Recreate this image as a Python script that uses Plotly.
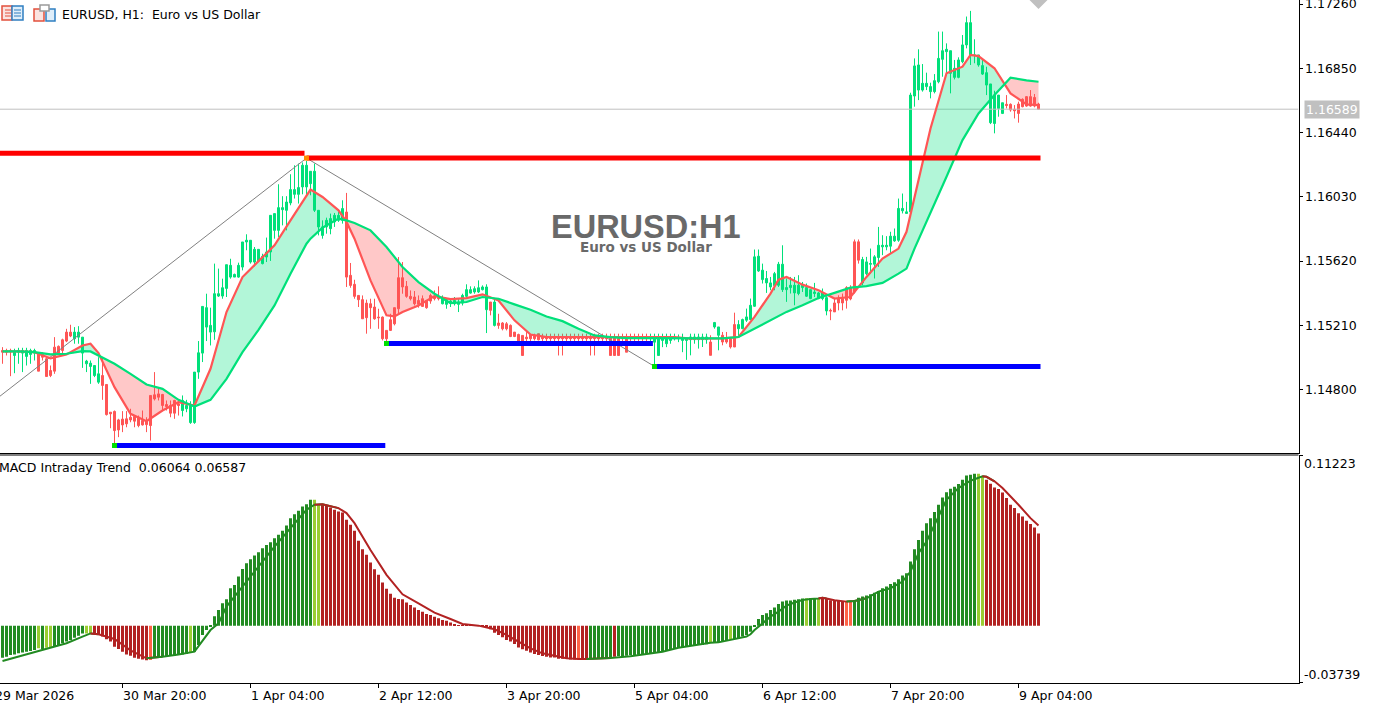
import plotly.graph_objs as go

# hourly candles, one value per bar
highs = [
    1.15071,1.15061,1.15061,1.15061,1.15067,1.15067,1.15067,1.15061,1.15061,1.15039,
    1.15039,1.15007,1.14954,1.15135,1.15082,1.15125,1.15188,1.15214,1.15199,1.15205,
    1.15135,1.14990,1.14986,1.14954,1.15007,1.15007,1.14833,1.14656,1.14667,1.14614,
    1.14663,1.14663,1.14678,1.14635,1.14635,1.14667,1.14624,1.14763,1.14912,1.14816,
    1.14773,1.14731,1.14731,1.14735,1.14731,1.14763,1.14735,1.14726,1.14912,1.15110,
    1.15331,1.15412,1.15323,1.15604,1.15572,1.15508,1.15597,1.15635,1.15540,1.15610,
    1.15742,1.15791,1.15753,1.15710,1.15695,1.15667,1.15770,1.15912,1.15923,1.16110,
    1.16034,1.16034,1.16174,1.16231,1.16242,1.16249,1.16259,1.16193,1.16242,1.15944,
    1.15880,1.15897,1.15923,1.15927,1.15933,1.16008,1.16055,1.15608,1.15501,1.15401,
    1.15401,1.15374,1.15380,1.15380,1.15316,1.15267,1.15178,1.15284,1.15323,1.15646,
    1.15614,1.15493,1.15433,1.15429,1.15401,1.15401,1.15369,1.15412,1.15433,1.15459,
    1.15401,1.15380,1.15380,1.15391,1.15380,1.15412,1.15472,1.15459,1.15459,1.15497,
    1.15465,1.15472,1.15359,1.15374,1.15284,1.15231,1.15231,1.15216,1.15167,1.15157,
    1.15146,1.15167,1.15152,1.15157,1.15157,1.15157,1.15157,1.15157,1.15157,1.15157,
    1.15157,1.15157,1.15157,1.15157,1.15157,1.15157,1.15157,1.15157,1.15157,1.15157,
    1.15157,1.15157,1.15157,1.15157,1.15157,1.15157,1.15157,1.15157,1.15157,1.15157,
    1.15157,1.15157,1.15157,1.15157,1.15157,1.15157,1.15157,1.15157,1.15157,1.15152,
    1.15157,1.15125,1.15157,1.15157,1.15157,1.15157,1.15157,1.15147,1.15232,1.15200,
    1.15168,1.15168,1.15136,1.15291,1.15243,1.15253,1.15317,1.15381,1.15694,1.15694,
    1.15604,1.15557,1.15519,1.15551,1.15615,1.15721,1.15509,1.15519,1.15519,1.15530,
    1.15487,1.15477,1.15438,1.15481,1.15423,1.15445,1.15396,1.15317,1.15381,1.15402,
    1.15413,1.15460,1.15466,1.15758,1.15758,1.15647,1.15647,1.15700,1.15658,1.15838,
    1.15785,1.15779,1.15807,1.15828,1.16019,1.16051,1.15998,1.16694,1.16913,1.16971,
    1.16877,1.16822,1.16758,1.16813,1.17084,1.17084,1.17009,1.16962,1.16903,1.16920,
    1.17062,1.17180,1.17216,1.17035,1.16935,1.16913,1.16860,1.16750,1.16707,1.16679,
    1.16630,1.16679,1.16626,1.16615,1.16637,1.16658,1.16673,1.16711,1.16686,1.16630,
]
lows = [
    1.14965,1.15018,1.14886,1.14905,1.14965,1.14912,1.14954,1.14965,1.14986,1.14918,
    1.14986,1.14884,1.14880,1.14901,1.15029,1.15018,1.15103,1.15135,1.15093,1.15093,
    1.14939,1.14912,1.14837,1.14880,1.14837,1.14735,1.14635,1.14554,1.14454,1.14497,
    1.14529,1.14560,1.14592,1.14560,1.14560,1.14571,1.14529,1.14475,1.14731,1.14731,
    1.14667,1.14667,1.14624,1.14614,1.14635,1.14629,1.14656,1.14582,1.14582,1.14869,
    1.14976,1.15110,1.15082,1.15118,1.15391,1.15380,1.15391,1.15508,1.15518,1.15514,
    1.15561,1.15689,1.15604,1.15586,1.15614,1.15599,1.15614,1.15621,1.15763,1.15774,
    1.15848,1.15816,1.15976,1.16019,1.15987,1.16046,1.16040,1.16040,1.15933,1.15784,
    1.15763,1.15795,1.15791,1.15838,1.15870,1.15859,1.15455,1.15450,1.15380,1.15327,
    1.15252,1.15157,1.15188,1.15246,1.15188,1.15114,1.15103,1.15174,1.15210,1.15284,
    1.15412,1.15386,1.15369,1.15337,1.15323,1.15327,1.15316,1.15348,1.15369,1.15369,
    1.15344,1.15316,1.15327,1.15337,1.15295,1.15337,1.15386,1.15412,1.15412,1.15416,
    1.15433,1.15161,1.15274,1.15203,1.15188,1.15178,1.15178,1.15135,1.15135,1.15097,
    1.15018,1.15103,1.15093,1.15114,1.15114,1.15103,1.15103,1.15103,1.15103,1.15018,
    1.15018,1.15103,1.15103,1.15103,1.15103,1.15103,1.15103,1.15018,1.15018,1.15103,
    1.15103,1.15103,1.15018,1.15018,1.15018,1.15103,1.15039,1.15103,1.15103,1.15103,
    1.15103,1.15103,1.15103,1.14944,1.15018,1.15071,1.15071,1.15093,1.15114,1.15103,
    1.15039,1.14990,1.15019,1.15093,1.15062,1.15072,1.15093,1.15019,1.15189,1.15051,
    1.15083,1.15093,1.15062,1.15072,1.15136,1.15185,1.15232,1.15243,1.15328,1.15551,
    1.15477,1.15417,1.15434,1.15434,1.15455,1.15423,1.15360,1.15413,1.15338,1.15402,
    1.15423,1.15391,1.15377,1.15391,1.15377,1.15370,1.15274,1.15243,1.15296,1.15306,
    1.15306,1.15317,1.15370,1.15413,1.15604,1.15466,1.15530,1.15540,1.15509,1.15583,
    1.15658,1.15689,1.15668,1.15743,1.15743,1.15924,1.15924,1.15924,1.16605,1.16647,
    1.16701,1.16711,1.16658,1.16690,1.16754,1.16796,1.16807,1.16690,1.16779,1.16786,
    1.16882,1.16977,1.16871,1.16882,1.16860,1.16807,1.16679,1.16494,1.16435,1.16541,
    1.16558,1.16594,1.16573,1.16530,1.16503,1.16601,1.16605,1.16605,1.16601,1.16589,
]
opens = [
    1.15050,1.15050,1.15050,1.15018,1.15039,1.15033,1.15012,1.15025,1.15033,1.15029,
    1.15025,1.14997,1.14922,1.15071,1.15076,1.15118,1.15167,1.15167,1.15125,1.15135,
    1.15033,1.14965,1.14948,1.14890,1.14848,1.14890,1.14833,1.14656,1.14661,1.14607,
    1.14612,1.14614,1.14624,1.14629,1.14624,1.14603,1.14603,1.14763,1.14767,1.14773,
    1.14769,1.14705,1.14699,1.14731,1.14709,1.14667,1.14678,1.14590,1.14590,1.14912,
    1.15033,1.15199,1.15167,1.15169,1.15397,1.15397,1.15446,1.15518,1.15518,1.15518,
    1.15582,1.15742,1.15614,1.15614,1.15621,1.15604,1.15646,1.15678,1.15816,1.15816,
    1.15948,1.15944,1.15991,1.16046,1.16046,1.16093,1.16093,1.16114,1.15944,1.15838,
    1.15784,1.15838,1.15827,1.15870,1.15880,1.15880,1.15933,1.15529,1.15472,1.15401,
    1.15374,1.15352,1.15348,1.15327,1.15263,1.15263,1.15178,1.15246,1.15323,1.15514,
    1.15514,1.15459,1.15395,1.15391,1.15369,1.15380,1.15369,1.15401,1.15395,1.15391,
    1.15348,1.15344,1.15352,1.15348,1.15344,1.15352,1.15395,1.15416,1.15423,1.15423,
    1.15438,1.15310,1.15359,1.15210,1.15225,1.15225,1.15220,1.15210,1.15167,1.15152,
    1.15146,1.15135,1.15150,1.15146,1.15157,1.15135,1.15135,1.15135,1.15135,1.15135,
    1.15135,1.15135,1.15135,1.15135,1.15135,1.15135,1.15135,1.15135,1.15135,1.15135,
    1.15135,1.15135,1.15135,1.15135,1.15135,1.15135,1.15135,1.15135,1.15135,1.15135,
    1.15135,1.15135,1.15125,1.15103,1.15018,1.15114,1.15093,1.15114,1.15125,1.15125,
    1.15114,1.15114,1.15119,1.15119,1.15119,1.15119,1.15119,1.15104,1.15200,1.15147,
    1.15147,1.15125,1.15125,1.15215,1.15189,1.15189,1.15243,1.15247,1.15332,1.15557,
    1.15502,1.15481,1.15455,1.15464,1.15466,1.15438,1.15438,1.15451,1.15417,1.15413,
    1.15451,1.15396,1.15381,1.15413,1.15381,1.15381,1.15302,1.15306,1.15353,1.15381,
    1.15381,1.15451,1.15451,1.15743,1.15743,1.15481,1.15540,1.15600,1.15600,1.15643,
    1.15711,1.15711,1.15715,1.15749,1.15753,1.15941,1.15924,1.15934,1.16673,1.16711,
    1.16711,1.16733,1.16701,1.16701,1.16764,1.16907,1.16956,1.16818,1.16792,1.16792,
    1.16892,1.16999,1.16935,1.16931,1.16871,1.16813,1.16743,1.16503,1.16498,1.16594,
    1.16562,1.16620,1.16620,1.16588,1.16622,1.16652,1.16669,1.16669,1.16664,1.16622,
]
closes = [
    1.15039,1.15039,1.15041,1.15039,1.15050,1.15050,1.15050,1.15050,1.15050,1.14918,
    1.15007,1.14884,1.14890,1.14918,1.15033,1.15050,1.15110,1.15142,1.15167,1.15167,
    1.15135,1.14982,1.14969,1.14954,1.14901,1.14827,1.14641,1.14646,1.14539,1.14543,
    1.14575,1.14582,1.14607,1.14599,1.14571,1.14575,1.14577,1.14571,1.14741,1.14752,
    1.14699,1.14692,1.14650,1.14650,1.14699,1.14731,1.14699,1.14699,1.14912,1.15035,
    1.15331,1.15323,1.15210,1.15412,1.15412,1.15450,1.15597,1.15593,1.15535,1.15593,
    1.15742,1.15753,1.15753,1.15695,1.15695,1.15650,1.15678,1.15912,1.15923,1.15961,
    1.15961,1.15997,1.16076,1.16076,1.16089,1.16231,1.16231,1.16193,1.16193,1.15944,
    1.15838,1.15880,1.15891,1.15912,1.15912,1.15955,1.15518,1.15465,1.15395,1.15374,
    1.15252,1.15259,1.15323,1.15252,1.15259,1.15125,1.15125,1.15178,1.15220,1.15316,
    1.15455,1.15395,1.15380,1.15348,1.15344,1.15331,1.15323,1.15365,1.15380,1.15380,
    1.15380,1.15374,1.15365,1.15369,1.15359,1.15401,1.15438,1.15438,1.15444,1.15450,
    1.15455,1.15455,1.15306,1.15359,1.15210,1.15188,1.15188,1.15139,1.15139,1.15103,
    1.15018,1.15125,1.15125,1.15125,1.15118,1.15125,1.15125,1.15125,1.15125,1.15125,
    1.15125,1.15125,1.15125,1.15125,1.15125,1.15125,1.15125,1.15125,1.15125,1.15125,
    1.15125,1.15125,1.15018,1.15018,1.15018,1.15125,1.15039,1.15125,1.15125,1.15125,
    1.15125,1.15125,1.15135,1.15125,1.15125,1.15125,1.15125,1.15125,1.15135,1.15135,
    1.15125,1.15125,1.15136,1.15136,1.15136,1.15136,1.15136,1.15019,1.15228,1.15200,
    1.15104,1.15104,1.15072,1.15072,1.15215,1.15247,1.15264,1.15338,1.15647,1.15651,
    1.15562,1.15509,1.15481,1.15540,1.15600,1.15600,1.15451,1.15466,1.15466,1.15466,
    1.15466,1.15451,1.15438,1.15423,1.15417,1.15417,1.15387,1.15302,1.15296,1.15353,
    1.15353,1.15370,1.15379,1.15423,1.15626,1.15630,1.15615,1.15604,1.15647,1.15721,
    1.15721,1.15721,1.15779,1.15779,1.15956,1.15956,1.15934,1.16679,1.16865,1.16871,
    1.16754,1.16754,1.16733,1.16771,1.16913,1.16962,1.16971,1.16962,1.16850,1.16903,
    1.16999,1.17141,1.17141,1.16935,1.16935,1.16867,1.16822,1.16750,1.16679,1.16679,
    1.16630,1.16613,1.16584,1.16579,1.16562,1.16605,1.16609,1.16609,1.16609,1.16589,
]

ma_bars = [0,4,8,12,16,20,22,24,28,32,36,40,44,48,52,56,60,64,68,72,76,77,80,84,86,88,92,96,98,
           100,104,108,112,116,120,124,128,132,136,140,144,148,152,156,160,164,168,172,176,180,
           184,188,192,194,196,200,204,208,212,216,220,224,226,228,232,236,240,242,244,248,252,256,259]
fast_ma = [1.15044,1.15044,1.15039,1.14999,1.15025,1.15082,1.15093,1.15033,1.14816,1.14646,1.14599,
           1.14667,1.14720,1.14699,1.14933,1.15295,1.15518,1.15621,1.15721,1.15880,1.16040,1.16076,
           1.16029,1.15944,1.15870,1.15763,1.15497,1.15274,1.15267,1.15295,1.15337,1.15397,1.15378,
           1.15384,1.15408,1.15369,1.15242,1.15152,1.15135,1.15135,1.15135,1.15135,1.15135,1.15135,
           1.15135,1.15135,1.15135,1.15125,1.15127,1.15127,1.15136,1.15264,1.15413,1.15502,1.15519,
           1.15470,1.15434,1.15381,1.15391,1.15519,1.15636,1.15700,1.15807,1.16030,1.16466,1.16818,
           1.16860,1.16935,1.16928,1.16850,1.16690,1.16620,1.16615]
slow_ma = [1.15044,1.15044,1.15039,1.15025,1.15029,1.15046,1.15044,1.15018,1.14965,1.14901,1.14833,
           1.14805,1.14735,1.14692,1.14735,1.14869,1.15039,1.15182,1.15337,1.15540,1.15731,1.15763,
           1.15833,1.15891,1.15880,1.15863,1.15816,1.15710,1.15646,1.15582,1.15486,1.15412,1.15352,
           1.15359,1.15391,1.15380,1.15344,1.15310,1.15267,1.15237,1.15188,1.15146,1.15135,1.15129,
           1.15129,1.15129,1.15127,1.15125,1.15127,1.15127,1.15136,1.15189,1.15238,1.15268,1.15296,
           1.15338,1.15385,1.15417,1.15451,1.15460,1.15481,1.15540,1.15572,1.15700,1.15924,1.16158,
           1.16392,1.16477,1.16562,1.16679,1.16790,1.16773,1.16764]

# support / resistance levels and the zigzag through the swing points
level_start = [-0.7, 76, 28, 96, 163]
level_end = [75.5, 259.5, 95.7, 162.6, 259.5]
level_price = [1.16308, 1.16277, 1.14444, 1.15095, 1.14948]
level_color = ["#ff0000", "#ff0000", "#0000ff", "#0000ff", "#0000ff"]
zigzag_bars = [-0.7, 76, 163]
zigzag_price = [1.14757, 1.16277, 1.14948]
swing_bars = [76, 28, 96, 163]
swing_price = [1.16277, 1.14444, 1.15095, 1.14948]
swing_color = ["#ff8c00", "#00e000", "#00e000", "#00e000"]
last_price = 1.16589

price_ticks = [1.1726, 1.1685, 1.1644, 1.1603, 1.1562, 1.1521, 1.148]
macd_ticks = [0.11223, -0.03739]
time_bars = [30, 62, 94, 126, 158, 190, 222, 254]
time_labels = ["30 Mar 20:00", "1 Apr 04:00", "2 Apr 12:00", "3 Apr 20:00",
               "5 Apr 04:00", "6 Apr 12:00", "7 Apr 20:00", "9 Apr 04:00"]

# MACD histogram
macd_hist = [
    -0.0211,-0.0204,-0.0193,-0.0189,-0.0182,-0.0176,-0.0171,-0.0167,-0.0160,-0.0149,
    -0.0154,-0.0145,-0.0145,-0.0138,-0.0127,-0.0116,-0.0105,-0.0094,-0.0079,-0.0066,
    -0.0051,-0.0051,-0.0051,-0.0057,-0.0061,-0.0072,-0.0090,-0.0105,-0.0138,-0.0154,
    -0.0171,-0.0189,-0.0198,-0.0211,-0.0217,-0.0222,-0.0228,-0.0226,-0.0211,-0.0206,
    -0.0206,-0.0204,-0.0200,-0.0198,-0.0193,-0.0189,-0.0187,-0.0178,-0.0171,-0.0127,
    -0.0061,-0.0029,-0.0007,0.0061,0.0103,0.0147,0.0173,0.0246,0.0268,0.0323,
    0.0373,0.0411,0.0437,0.0461,0.0483,0.0509,0.0531,0.0549,0.0575,0.0597,
    0.0624,0.0659,0.0707,0.0733,0.0755,0.0784,0.0799,0.0828,0.0828,0.0799,
    0.0799,0.0791,0.0777,0.0762,0.0751,0.0744,0.0696,0.0663,0.0624,0.0558,
    0.0503,0.0466,0.0415,0.0371,0.0334,0.0283,0.0242,0.0209,0.0184,0.0176,
    0.0173,0.0152,0.0136,0.0119,0.0103,0.0092,0.0077,0.0070,0.0059,0.0048,
    0.0037,0.0033,0.0020,0.0009,0.0004,0.0004,0.0004,0.0002,0.0001,0.0001,
    -0.0007,-0.0013,-0.0024,-0.0046,-0.0061,-0.0077,-0.0094,-0.0105,-0.0121,-0.0143,
    -0.0156,-0.0165,-0.0176,-0.0187,-0.0193,-0.0200,-0.0204,-0.0209,-0.0209,-0.0217,
    -0.0217,-0.0217,-0.0222,-0.0222,-0.0222,-0.0222,-0.0222,-0.0220,-0.0217,-0.0215,
    -0.0213,-0.0213,-0.0211,-0.0204,-0.0200,-0.0200,-0.0198,-0.0195,-0.0195,-0.0191,
    -0.0189,-0.0187,-0.0182,-0.0178,-0.0173,-0.0167,-0.0160,-0.0156,-0.0149,-0.0147,
    -0.0145,-0.0138,-0.0134,-0.0130,-0.0125,-0.0127,-0.0123,-0.0110,-0.0110,-0.0110,
    -0.0105,-0.0101,-0.0088,-0.0088,-0.0083,-0.0072,-0.0061,-0.0040,-0.0007,0.0044,
    0.0070,0.0081,0.0103,0.0119,0.0143,0.0158,0.0165,0.0165,0.0171,0.0173,
    0.0178,0.0180,0.0180,0.0180,0.0176,0.0184,0.0180,0.0167,0.0167,0.0167,
    0.0158,0.0158,0.0158,0.0169,0.0184,0.0191,0.0198,0.0206,0.0217,0.0228,
    0.0246,0.0257,0.0274,0.0285,0.0305,0.0329,0.0345,0.0422,0.0503,0.0564,
    0.0624,0.0674,0.0707,0.0747,0.0795,0.0843,0.0878,0.0900,0.0914,0.0931,
    0.0960,0.0988,0.0993,0.0999,0.0999,0.0982,0.0960,0.0933,0.0909,0.0898,
    0.0876,0.0839,0.0795,0.0773,0.0740,0.0718,0.0690,0.0668,0.0646,0.06064,
]
# first bar of each colour run
hist_run_start = [0,9,10,11,13,21,23,37,38,47,48,78,80,144,145,147,153,154,177,178,182,183,201,202,204,205,211,213,244,246]
hist_run_color = ["#228b22","#9acd32","#228b22","#9acd32","#228b22","#9acd32","#b22222","#ff6347","#228b22","#9acd32",
                  "#228b22","#9acd32","#b22222","#ff6347","#b22222","#228b22","#b22222","#228b22","#9acd32","#228b22",
                  "#9acd32","#228b22","#9acd32","#228b22","#9acd32","#b22222","#ff6347","#228b22","#9acd32","#b22222"]

# MACD signal line
signal_bars = [0,4,8,12,16,20,22,24,28,32,36,38,40,44,48,52,54,56,60,64,68,72,76,78,80,84,86,88,92,96,
               100,104,108,112,115,119,123,126,129,132,135,138,141,144,146,152,157,161,165,169,173,177,
               179,183,186,187,188,190,192,194,196,198,200,202,204,205,206,208,211,213,216,219,222,225,
               227,229,231,233,236,239,242,245,246,248,250,254,257,259]
signal_line = [-0.0233,-0.0204,-0.0171,-0.0145,-0.0116,-0.0072,-0.0051,-0.0057,-0.0088,-0.0162,-0.0215,-0.0211,
               -0.0204,-0.0189,-0.0171,-0.0029,0.0015,0.0125,0.0257,0.0395,0.0520,0.0641,0.0762,0.0795,0.0799,
               0.0773,0.0740,0.0674,0.0498,0.0334,0.0206,0.0147,0.0086,0.0044,0.0011,0.0,-0.0024,-0.0061,
               -0.0105,-0.0149,-0.0182,-0.0198,-0.0215,-0.0220,-0.0220,-0.0213,-0.0202,-0.0187,-0.0171,-0.0145,
               -0.0127,-0.0112,-0.0110,-0.0088,-0.0072,-0.0057,-0.0029,0.0015,0.0059,0.0092,0.0132,0.0152,
               0.0169,0.0176,0.0178,0.0184,0.0178,0.0167,0.0158,0.0162,0.0180,0.0224,0.0246,0.0290,0.0356,
               0.0477,0.0553,0.0663,0.0828,0.0905,0.0953,0.0982,0.0979,0.0949,0.0905,0.0795,0.0707,0.06587]
signal_run_start = [0, 23, 38, 80, 147, 205, 213, 246]
signal_run_color = ["#228b22", "#b22222", "#228b22", "#b22222", "#228b22", "#b22222", "#228b22", "#b22222"]

GREEN = "#00e07a"
RED = "#ff5555"
FONT = "DejaVu Sans"
W, H = 1375, 706
X_RANGE = [-0.625, 324]


def px(x):
    return x / W


def py(y):
    return 1 - y / H


def run_value(bar, starts, values):
    out = values[0]
    for s, v in zip(starts, values):
        if bar >= s:
            out = v
    return out


def cloud_traces():
    # one closed polygon per stretch where the fast line stays on the same side
    runs = []
    xs, up, low = [ma_bars[0]], [fast_ma[0]], [slow_ma[0]]
    for k in range(1, len(ma_bars)):
        d0 = fast_ma[k - 1] - slow_ma[k - 1]
        d1 = fast_ma[k] - slow_ma[k]
        if d0 * d1 < 0:
            t = d0 / (d0 - d1)
            cx = ma_bars[k - 1] + t * (ma_bars[k] - ma_bars[k - 1])
            cy = fast_ma[k - 1] + t * (fast_ma[k] - fast_ma[k - 1])
            xs.append(cx), up.append(cy), low.append(cy)
            runs.append((xs, up, low, d0 > 0))
            xs, up, low = [cx], [cy], [cy]
        xs.append(ma_bars[k]), up.append(fast_ma[k]), low.append(slow_ma[k])
    runs.append((xs, up, low, fast_ma[-1] > slow_ma[-1]))

    traces = []
    for xs, up, low, bull in runs:
        traces.append(go.Scatter(
            x=xs + xs[::-1], y=up + low[::-1], mode="lines", fill="toself", line=dict(width=0),
            fillcolor="rgba(0,225,125,0.30)" if bull else "rgba(255,85,85,0.32)",
            hoverinfo="skip", xaxis="x", yaxis="y"))
    return traces


fig = go.Figure()

fig.add_trace(go.Scatter(x=X_RANGE, y=[last_price, last_price], mode="lines",
                         line=dict(color="#c0c0c0", width=1), xaxis="x", yaxis="y"))
fig.add_trace(go.Scatter(x=zigzag_bars, y=zigzag_price, mode="lines",
                         line=dict(color="#808080", width=1), xaxis="x", yaxis="y"))

fig.add_trace(go.Candlestick(
    x=list(range(len(closes))), open=opens, high=highs, low=lows, close=closes,
    increasing=dict(line=dict(color=GREEN, width=1), fillcolor=GREEN),
    decreasing=dict(line=dict(color=RED, width=1), fillcolor=RED),
    whiskerwidth=0, xaxis="x", yaxis="y"))

for tr in cloud_traces():
    fig.add_trace(tr)
fig.add_trace(go.Scatter(x=ma_bars, y=fast_ma, mode="lines", line=dict(color=RED, width=2.2), xaxis="x", yaxis="y"))
fig.add_trace(go.Scatter(x=ma_bars, y=slow_ma, mode="lines", line=dict(color=GREEN, width=2.2), xaxis="x", yaxis="y"))

for a, b, p, c in zip(level_start, level_end, level_price, level_color):
    fig.add_trace(go.Scatter(x=[a, b], y=[p, p], mode="lines", line=dict(color=c, width=5), xaxis="x", yaxis="y"))
fig.add_trace(go.Scatter(x=swing_bars, y=swing_price, mode="markers",
                         marker=dict(symbol="square", size=5, color=swing_color), xaxis="x", yaxis="y"))
# grey shift marker cut off by the top of the chart
fig.add_trace(go.Scatter(x=[259], y=[1.17286], mode="markers",
                         marker=dict(symbol="diamond", size=14, color="#c0c0c0"), xaxis="x", yaxis="y"))

fig.add_trace(go.Bar(x=list(range(len(macd_hist))), y=macd_hist, width=0.75,
                     marker=dict(color=[run_value(i, hist_run_start, hist_run_color) for i in range(len(macd_hist))],
                                 line=dict(width=0)),
                     xaxis="x2", yaxis="y2"))

# signal line changes colour with the trend
for n, start in enumerate(signal_run_start):
    end = signal_run_start[n + 1] if n + 1 < len(signal_run_start) else 10 ** 6
    keep = [k for k, b in enumerate(signal_bars) if start <= b <= end]
    if keep[0] > 0:
        keep = [keep[0] - 1] + keep
    if n + 1 < len(signal_run_start) and keep[-1] + 1 < len(signal_bars):
        keep = keep + [keep[-1] + 1]
    fig.add_trace(go.Scatter(x=[signal_bars[k] for k in keep], y=[signal_line[k] for k in keep], mode="lines",
                             line=dict(color=signal_run_color[n], width=2), xaxis="x2", yaxis="y2"))

text_font = dict(family=FONT, size=12.5, color="#000000")
notes = [
    dict(x=px(60), y=py(15), text="EURUSD, H1:  Euro vs US Dollar", xanchor="left"),
    dict(x=px(-3), y=py(467), text="MACD Intraday Trend  0.06064 0.06587", xanchor="left"),
    # top price tick sits too close to the edge for the axis to label it
    dict(x=px(1303), y=py(4), text="1.17260", xanchor="left"),
    dict(x=px(1302), y=py(463), text="0.11223", xanchor="left"),
    dict(x=px(1302), y=py(674), text="-0.03739", xanchor="left"),
    dict(x=px(-7), y=py(695), text="29 Mar 2026", xanchor="left"),
]
annotations = [dict(n, xref="paper", yref="paper", yanchor="middle", showarrow=False, font=text_font) for n in notes]
for bar, label in zip(time_bars, time_labels):
    annotations.append(dict(x=bar, xref="x2", y=py(695), yref="paper", text=label, xanchor="left", xshift=-2,
                            yanchor="middle", showarrow=False, font=text_font))
annotations.append(dict(x=px(1331.5), y=py(109.5), xref="paper", yref="paper", text="1.16589", showarrow=False,
                        xanchor="center", yanchor="middle", bgcolor="#c0c0c0", borderpad=1,
                        font=dict(family=FONT, size=12.5, color="#ffffff")))
annotations.append(dict(x=px(646), y=py(227), xref="paper", yref="paper", text="<b>EURUSD:H1</b>", showarrow=False,
                        xanchor="center", yanchor="middle",
                        font=dict(family="Liberation Sans", size=32.5, color="#696969")))
annotations.append(dict(x=px(646), y=py(247), xref="paper", yref="paper", text="<b>Euro vs US Dollar</b>", showarrow=False,
                        xanchor="center", yanchor="middle",
                        font=dict(family=FONT, size=13.5, color="#696969")))

# the two little toolbar icons in the corner
icon_parts = [
    (2, 6, 12, 20, "#fbe3e0", "#e2503c"), (12, 6, 23, 20, "#dfeefa", "#2f7fc1"),
    (34, 9, 44, 21, "#fbe3e0", "#e2503c"), (46, 9, 55, 21, "#dfeefa", "#2f7fc1"),
    (40, 5, 49, 11, "#ffffff", "#9a9a9a"),
]
shapes = [dict(type="rect", xref="paper", yref="paper", x0=px(a), y0=py(b), x1=px(c), y1=py(d),
               fillcolor=f, line=dict(color=l, width=1.5)) for a, b, c, d, f, l in icon_parts]
for y in [10, 13, 16]:
    shapes.append(dict(type="line", xref="paper", yref="paper", x0=px(5), x1=px(11), y0=py(y), y1=py(y),
                       line=dict(color="#e2503c", width=1)))
    shapes.append(dict(type="line", xref="paper", yref="paper", x0=px(14), x1=px(21), y0=py(y), y1=py(y),
                       line=dict(color="#2f7fc1", width=1)))

axis_font = dict(family=FONT, size=12.5, color="#000000")
fig.update_layout(
    width=W, height=H, autosize=False, showlegend=False, paper_bgcolor="#ffffff", plot_bgcolor="#ffffff",
    margin=dict(l=0, r=0, t=0, b=0), hovermode=False, boxgap=0.5, boxgroupgap=0,
    annotations=annotations, shapes=shapes,
    xaxis=dict(domain=[0, 1298.5 / W], range=X_RANGE, anchor="y", showgrid=False, zeroline=False,
               showticklabels=False, ticks="", showline=True, linecolor="#000000", linewidth=1,
               rangeslider=dict(visible=False)),
    yaxis=dict(domain=[py(452.5), 1], range=[1.143991, 1.172855], side="right", anchor="x", showgrid=False,
               zeroline=False, showline=True, linecolor="#000000", linewidth=1, ticks="outside", ticklen=3,
               tickcolor="#000000", tickvals=price_ticks, tickformat=".5f", tickfont=axis_font),
    xaxis2=dict(domain=[0, 1298.5 / W], range=X_RANGE, anchor="y2", showgrid=False, zeroline=False,
                tickvals=time_bars, showticklabels=False, ticks="outside", ticklen=4, tickcolor="#000000",
                showline=True, linecolor="#000000", linewidth=1),
    yaxis2=dict(domain=[py(682.5), py(455)], range=[-0.03739, 0.11223], side="right", anchor="x2", showgrid=False,
                zeroline=False, showline=True, linecolor="#000000", linewidth=1, ticks="outside", ticklen=3,
                tickcolor="#000000", tickvals=macd_ticks, showticklabels=False),
)
# pane 2 has its own top rule
fig.add_shape(type="line", xref="paper", yref="paper", x0=0, x1=px(1298.5), y0=py(455), y1=py(455),
              line=dict(color="#000000", width=1))

fig.write_html("out.html", config=dict(displayModeBar=False),
               post_script="document.body.style.margin='0';document.body.style.overflow='hidden';")
